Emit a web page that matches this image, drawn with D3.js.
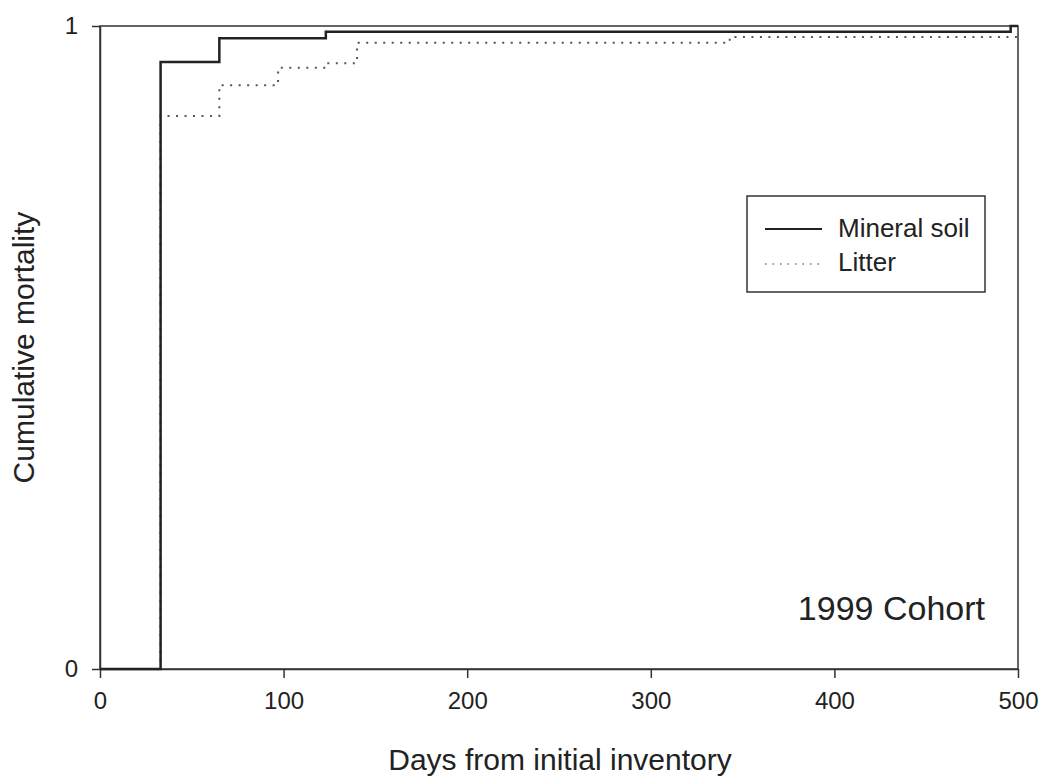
<!DOCTYPE html>
<html>
<head>
<meta charset="utf-8">
<script src="https://cdn.jsdelivr.net/npm/d3@7"></script>
<style>
  html, body { margin: 0; padding: 0; background: #fff; }
  svg { display: block; }
  text { font-family: "Liberation Sans", Arial, sans-serif; fill: #222; }
</style>
</head>
<body>
<svg id="chart" width="1042" height="777"></svg>
<script>
// Kaplan-Meier style cumulative mortality steps (day, cumulative mortality)
const mineralDays = [0, 33, 65, 123, 496, 500];
const mineralMort = [0, 0.944, 0.981, 0.991, 1.0, 1.0];
const litterDays = [0, 33, 65, 97, 123, 140, 343, 500];
const litterMort = [0, 0.86, 0.908, 0.935, 0.942, 0.974, 0.983, 0.983];
const xTicks = [0, 100, 200, 300, 400, 500];
const yTicks = [0, 1];
const seriesNames = ["Mineral soil", "Litter"];

const svg = d3.select("#chart");
const margin = { left: 100, top: 26, right: 1018, bottom: 669 };

const x = d3.scaleLinear().domain([0, 500]).range([margin.left, margin.right]);
const y = d3.scaleLinear().domain([0, 1]).range([margin.bottom, margin.top]);

// plot frame
svg.append("rect")
  .attr("x", margin.left).attr("y", margin.top)
  .attr("width", margin.right - margin.left)
  .attr("height", margin.bottom - margin.top)
  .attr("fill", "none").attr("stroke", "#333").attr("stroke-width", 1.5);

// x axis
const xAxis = svg.append("g")
  .attr("transform", `translate(0,${margin.bottom})`)
  .call(d3.axisBottom(x).tickValues(xTicks).tickSize(9).tickPadding(14).tickSizeOuter(0));
xAxis.select(".domain").attr("stroke", "#333").attr("stroke-width", 1.5);
xAxis.selectAll(".tick line").attr("stroke", "#333").attr("stroke-width", 1.5);
xAxis.selectAll(".tick text").attr("font-size", 24).attr("fill", "#222")
  .attr("font-family", "Liberation Sans, Arial, sans-serif");

// y axis
const yAxis = svg.append("g")
  .attr("transform", `translate(${margin.left},0)`)
  .call(d3.axisLeft(y).tickValues(yTicks).tickFormat(d3.format("d")).tickSize(8).tickPadding(14).tickSizeOuter(0));
yAxis.select(".domain").attr("stroke", "#333").attr("stroke-width", 1.5);
yAxis.selectAll(".tick line").attr("stroke", "#333").attr("stroke-width", 1.5);
yAxis.selectAll(".tick text").attr("font-size", 24).attr("fill", "#222")
  .attr("font-family", "Liberation Sans, Arial, sans-serif");

// step lines
const step = d3.line().x(d => x(d[0])).y(d => y(d[1])).curve(d3.curveStepAfter);

svg.append("path")
  .datum(litterDays.map((d, i) => [d, litterMort[i]]))
  .attr("d", step)
  .attr("fill", "none")
  .attr("stroke", "#555")
  .attr("stroke-width", 2)
  .attr("stroke-dasharray", "2,6.5");

svg.append("path")
  .datum(mineralDays.map((d, i) => [d, mineralMort[i]]))
  .attr("d", step)
  .attr("fill", "none")
  .attr("stroke", "#222")
  .attr("stroke-width", 2.5);

// axis titles
svg.append("text")
  .attr("x", (margin.left + margin.right) / 2 + 1)
  .attr("y", 770)
  .attr("text-anchor", "middle")
  .attr("font-size", 30)
  .text("Days from initial inventory");

svg.append("text")
  .attr("transform", `translate(34,${(margin.top + margin.bottom) / 2}) rotate(-90)`)
  .attr("text-anchor", "middle")
  .attr("font-size", 30)
  .text("Cumulative mortality");

// cohort label
svg.append("text")
  .attr("x", 985).attr("y", 620)
  .attr("text-anchor", "end")
  .attr("font-size", 34)
  .text("1999 Cohort");

// legend
const lg = svg.append("g");
lg.append("rect")
  .attr("x", 747).attr("y", 196).attr("width", 238).attr("height", 96)
  .attr("fill", "#fff").attr("stroke", "#333").attr("stroke-width", 1.5);
lg.append("line")
  .attr("x1", 765).attr("x2", 822).attr("y1", 229).attr("y2", 229)
  .attr("stroke", "#222").attr("stroke-width", 2.2);
lg.append("line")
  .attr("x1", 765).attr("x2", 822).attr("y1", 264).attr("y2", 264)
  .attr("stroke", "#777").attr("stroke-width", 1.5).attr("stroke-dasharray", "1.5,6");
lg.append("text").attr("x", 838).attr("y", 237).attr("font-size", 26).text(seriesNames[0]);
lg.append("text").attr("x", 838).attr("y", 271).attr("font-size", 26).text(seriesNames[1]);
</script>
</body>
</html>
